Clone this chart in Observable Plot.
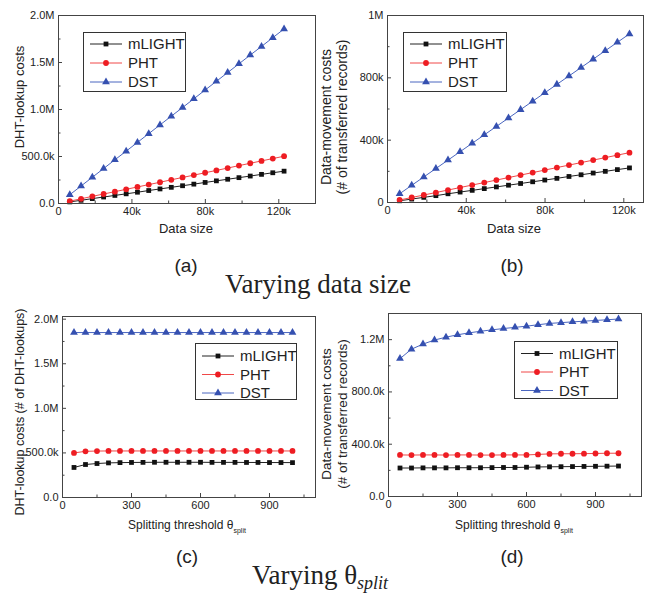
<!DOCTYPE html>
<html><head><meta charset="utf-8">
<script src="https://cdn.jsdelivr.net/npm/d3@7"></script>
<script src="https://cdn.jsdelivr.net/npm/@observablehq/plot@0.6"></script>
<style>
body{margin:0;background:#fff;}
#fig{position:relative;width:653px;height:600px;font-family:"Liberation Sans",Arial,sans-serif;color:#222;overflow:hidden;}
#fig svg.plot{position:absolute;}
.ylab{position:absolute;transform:translate(-50%,-50%) rotate(-90deg);white-space:nowrap;text-align:center;}
.ctr{position:absolute;transform:translate(-50%,-50%);white-space:nowrap;text-align:center;}
.serif{font-family:"Liberation Serif","Times New Roman",serif;}
.leg{position:absolute;border:1px solid #333;background:#fff;box-sizing:border-box;}
</style></head><body><div id="fig"></div>
<script>
// ---------- data (values in thousands) ----------
const seriesNames = ["mLIGHT", "PHT", "DST"];
const dataSizes = [6144, 12288, 18432, 24576, 30720, 36864, 43008, 49152, 55296, 61440,
  67584, 73728, 79872, 86016, 92160, 98304, 104448, 110592, 116736, 122880];
const thresholds = [50, 100, 150, 200, 250, 300, 350, 400, 450, 500,
  550, 600, 650, 700, 750, 800, 850, 900, 950, 1000];

// (a) DHT-lookup costs vs data size
const lookupSizeMLIGHT = [17, 34, 52, 69, 86, 103, 120, 138, 155, 172, 189, 206, 224, 241, 258, 275, 292, 310, 327, 344];
const lookupSizePHT = [25, 50, 76, 101, 126, 151, 176, 201, 226, 252, 277, 302, 327, 352, 377, 403, 428, 453, 478, 503];
const lookupSizeDST = [93, 186, 279, 372, 465, 557, 650, 743, 836, 929, 1021, 1114, 1207, 1300, 1393, 1486, 1579, 1671, 1764, 1857];
// (b) data-movement costs vs data size
const moveSizeMLIGHT = [11, 22, 33, 44, 56, 67, 78, 89, 100, 111, 122, 133, 144, 155, 167, 178, 189, 200, 211, 222];
const moveSizePHT = [16, 32, 48, 64, 80, 96, 112, 128, 144, 160, 176, 192, 208, 224, 240, 256, 272, 288, 304, 320];
const moveSizeDST = [56, 110, 164, 218, 272, 326, 380, 434, 488, 542, 596, 650, 704, 758, 812, 866, 920, 974, 1028, 1082];
// (c) DHT-lookup costs vs splitting threshold
const lookupThrMLIGHT = [337, 370, 381, 388, 391, 393, 394, 395, 395, 395, 395, 395, 394, 394, 394, 393, 393, 392, 392, 391];
const lookupThrPHT = [500, 518, 521, 522, 522, 522, 522, 522, 522, 522, 522, 522, 522, 522, 522, 522, 522, 522, 522, 522];
const lookupThrDST = [1850, 1850, 1850, 1850, 1850, 1850, 1850, 1850, 1850, 1850, 1850, 1850, 1850, 1850, 1850, 1850, 1850, 1850, 1850, 1850];
// (d) data-movement costs vs splitting threshold
const moveThrMLIGHT = [218, 218, 219, 219, 219, 220, 220, 220, 221, 222, 222, 224, 226, 227, 228, 229, 230, 231, 232, 233];
const moveThrPHT = [318, 317, 318, 318, 317, 318, 318, 317, 317, 318, 318, 318, 322, 326, 327, 327, 328, 329, 331, 331];
const moveThrDST = [1055, 1127, 1166, 1197, 1219, 1237, 1252, 1264, 1275, 1285, 1294, 1303, 1314, 1324, 1330, 1336, 1341, 1347, 1352, 1358];

// ticks
const xTicksSize = [0, 40, 80, 120];          // thousands
const xTickLabelsSize = ["0", "40k", "80k", "120k"];
const xMinorSize = [20, 60, 100, 140];
const xTicksThr = [0, 300, 600, 900];
const xTickLabelsThr = ["0", "300", "600", "900"];
const xMinorThr = [150, 450, 750, 1050];
const yTicksLookup = [0, 500, 1000, 1500, 2000];
const yTickLabelsLookup = ["0.0", "500.0k", "1.0M", "1.5M", "2.0M"];
const yMinorLookup = [250, 750, 1250, 1750];
const yTicksMoveB = [0, 400, 800, 1200];
const yTickLabelsMoveB = ["0", "400k", "800k", "1M"];
const yMinorMoveB = [200, 600, 1000];
const yTicksMoveD = [0, 400, 800, 1200];
const yTickLabelsMoveD = ["0.0", "400.0k", "800.0k", "1.2M"];
const yMinorMoveD = [200, 600, 1000];

// ---------- styles ----------
const style = {
  mLIGHT: {fill: "#111", line: "#222", symbol: "square", r: 2.7},
  PHT: {fill: "#ee1d23", line: "#f04848", symbol: "circle", r: 2.9},
  DST: {fill: "#3550b0", line: "#4a66c0", symbol: "triangle", r: 2.9}
};
const FONT = "'Liberation Sans', Arial, sans-serif";
const fig = document.getElementById("fig");

function panel(o) {
  const iw = o.width - o.mL - o.mR, ih = o.height - o.mT - o.mB;
  const xFmt = new Map(o.xTicks.map((d, i) => [d, o.xLabels[i]]));
  const yFmt = new Map(o.yTicks.map((d, i) => [d, o.yLabels[i]]));
  const marks = [];
  o.series.forEach((vals, k) => {
    const name = seriesNames[k], s = style[name];
    const rows = o.x.map((xv, i) => ({x: xv, y: vals[i]}));
    marks.push(Plot.line(rows, {x: "x", y: "y", stroke: s.line, strokeWidth: 1}));
    marks.push(Plot.dot(rows, {x: "x", y: "y", symbol: s.symbol, r: s.r, fill: s.fill, stroke: "none"}));
  });
  marks.push(
    Plot.frame({stroke: "#444", strokeWidth: 1}),
    Plot.tickX(o.xTicks, {insetTop: ih - 4, stroke: "#444"}),
    Plot.tickX(o.xMinor.filter(d => d <= o.xDomain[1]), {insetTop: ih - 2.5, stroke: "#444"}),
    Plot.tickY(o.yTicks, {insetRight: iw - 4, stroke: "#444"}),
    Plot.tickY(o.yMinor.filter(d => d <= o.yDomain[1]), {insetRight: iw - 2.5, stroke: "#444"}),
    Plot.axisX({ticks: o.xTicks, tickSize: 0, tickPadding: 4, tickFormat: d => xFmt.get(d), label: null, fontSize: 11}),
    Plot.axisY({ticks: o.yTicks, tickSize: 0, tickPadding: 4, tickFormat: d => yFmt.get(d), label: null, fontSize: 11})
  );
  const svg = Plot.plot({
    width: o.width, height: o.height,
    marginLeft: o.mL, marginRight: o.mR, marginTop: o.mT, marginBottom: o.mB,
    x: {domain: o.xDomain}, y: {domain: o.yDomain},
    style: {fontFamily: FONT, fontSize: "11px", color: "#222", background: "transparent", overflow: "visible"},
    marks
  });
  svg.classList.add("plot");
  svg.style.left = o.left + "px";
  svg.style.top = o.top + "px";
  fig.appendChild(svg);
}

panel({left: 0, top: 0, width: 326, height: 230, mL: 58, mR: 11, mT: 15, mB: 27,
  xDomain: [0, 140], yDomain: [0, 2000], x: dataSizes.map(d => d / 1000),
  xTicks: xTicksSize, xLabels: xTickLabelsSize, xMinor: xMinorSize,
  yTicks: yTicksLookup, yLabels: yTickLabelsLookup, yMinor: yMinorLookup,
  series: [lookupSizeMLIGHT, lookupSizePHT, lookupSizeDST]});
panel({left: 326, top: 0, width: 327, height: 230, mL: 61, mR: 10, mT: 15, mB: 28,
  xDomain: [0, 130], yDomain: [0, 1200], x: dataSizes.map(d => d / 1000),
  xTicks: xTicksSize, xLabels: xTickLabelsSize, xMinor: xMinorSize,
  yTicks: yTicksMoveB, yLabels: yTickLabelsMoveB, yMinor: yMinorMoveB,
  series: [moveSizeMLIGHT, moveSizePHT, moveSizeDST]});
panel({left: 0, top: 300, width: 326, height: 230, mL: 62, mR: 11, mT: 16, mB: 33,
  xDomain: [0, 1100], yDomain: [0, 2030], x: thresholds,
  xTicks: xTicksThr, xLabels: xTickLabelsThr, xMinor: xMinorThr,
  yTicks: yTicksLookup, yLabels: yTickLabelsLookup, yMinor: yMinorLookup,
  series: [lookupThrMLIGHT, lookupThrPHT, lookupThrDST]});
panel({left: 326, top: 300, width: 327, height: 230, mL: 62, mR: 12, mT: 13, mB: 34,
  xDomain: [0, 1100], yDomain: [0, 1400], x: thresholds,
  xTicks: xTicksThr, xLabels: xTickLabelsThr, xMinor: xMinorThr,
  yTicks: yTicksMoveD, yLabels: yTickLabelsMoveD, yMinor: yMinorMoveD,
  series: [moveThrMLIGHT, moveThrPHT, moveThrDST]});

// ---------- legends ----------
function legend(left, top, w, h, row0, rowGap, lx1, lx2, tx) {
  const div = document.createElement("div");
  div.className = "leg";
  Object.assign(div.style, {left: left + "px", top: top + "px", width: w + "px", height: h + "px"});
  const svg = d3.create("svg").attr("width", w - 2).attr("height", h - 2).style("display", "block").style("overflow", "visible");
  seriesNames.forEach((name, i) => {
    const s = style[name], y = row0 + i * rowGap;
    svg.append("line").attr("x1", lx1).attr("x2", lx2).attr("y1", y).attr("y2", y)
      .attr("stroke", s.line).attr("stroke-width", 1);
    const sym = {square: d3.symbolSquare, circle: d3.symbolCircle, triangle: d3.symbolTriangle}[s.symbol];
    svg.append("path").attr("d", d3.symbol(sym, Math.PI * s.r * s.r)())
      .attr("transform", `translate(${(lx1 + lx2) / 2},${y})`).attr("fill", s.fill);
    svg.append("text").attr("x", tx).attr("y", y).attr("dy", "0.36em")
      .attr("font-family", FONT).attr("font-size", 15).attr("fill", "#222").text(name);
  });
  div.appendChild(svg.node());
  fig.appendChild(div);
}
legend(83, 32, 103, 60, 11, 19, 6, 38, 44);
legend(403, 32, 104, 60, 11, 19, 6, 38, 44);
legend(195, 343, 102, 57, 12, 18.5, 6, 38, 44);
legend(514, 341, 104, 58, 11.5, 18.5, 6, 38, 44);

// ---------- text ----------
function addText(html, cls, x, y, size, extra) {
  const d = document.createElement("div");
  d.className = cls;
  d.innerHTML = html;
  Object.assign(d.style, {left: x + "px", top: y + "px", fontSize: size + "px"}, extra || {});
  fig.appendChild(d);
}
addText("DHT-lookup costs", "ylab", 19, 97, 13);
addText("Data-movement costs<br>(# of transferred records)", "ylab", 334, 117, 14, {lineHeight: "16px"});
addText("DHT-lookup costs (# of DHT-lookups)", "ylab", 20, 412, 12.5);
addText("Data-movement costs<br>(# of transferred records)", "ylab", 335, 414, 13.5, {lineHeight: "16px"});
addText("Data size", "ctr", 186, 228, 13);
addText("Data size", "ctr", 514, 228, 13);
const thrLabel = "Splitting threshold θ<sub style='font-size:7px;vertical-align:-4px'>split</sub>";
addText(thrLabel, "ctr", 187, 526, 12);
addText(thrLabel, "ctr", 514, 526, 12);
addText("(a)", "ctr", 186, 266, 19);
addText("(b)", "ctr", 512, 266, 19);
addText("(c)", "ctr", 187, 557, 19);
addText("(d)", "ctr", 512, 557, 19);
addText("Varying data size", "ctr serif", 318, 284, 27);
addText("Varying θ<sub style='font-size:18px;font-style:italic;vertical-align:-5px'>split</sub>", "ctr serif", 320, 577, 27);
</script></body></html>
